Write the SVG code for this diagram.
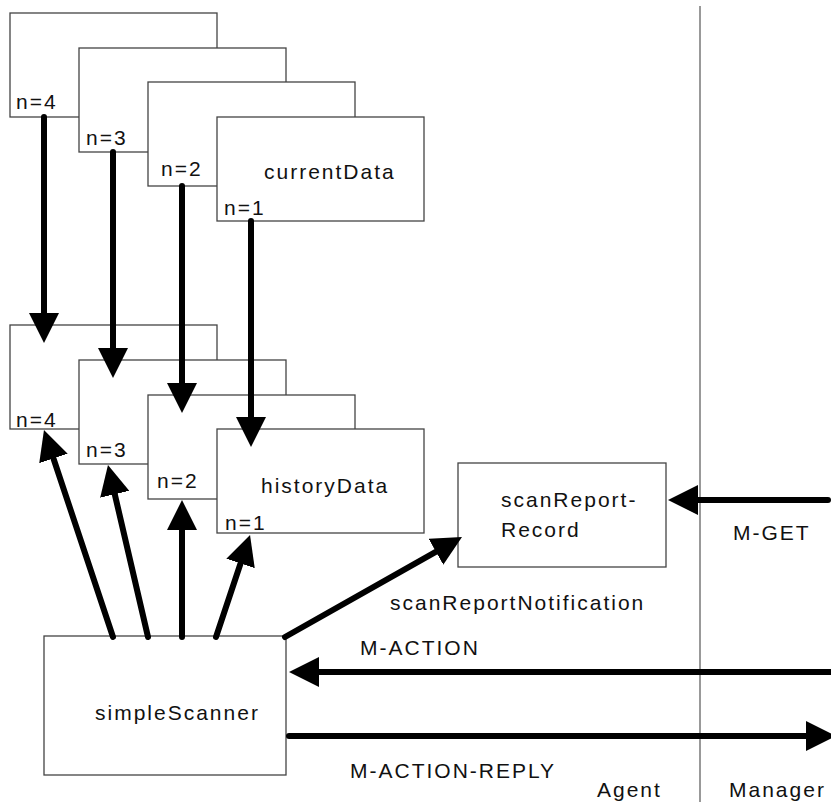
<svg xmlns="http://www.w3.org/2000/svg" width="831" height="805" viewBox="0 0 831 805">
<style>
.box{fill:#fff;stroke:#444;stroke-width:1.3}
.t{font-family:"Liberation Sans",Arial,sans-serif;font-size:21px;letter-spacing:2px;fill:#111}
.c{fill:none;stroke:#000;stroke-width:6;stroke-linecap:round;marker-end:url(#ah)}
.div{stroke:#777;stroke-width:1.5}
</style>
<defs>
<marker id="ah" markerUnits="userSpaceOnUse" markerWidth="30" markerHeight="30" viewBox="0 0 30 30" refX="10" refY="15" orient="auto">
<path d="M0,0 L30,15 L0,30 z" fill="#000"/>
</marker>
</defs>
<rect width="831" height="805" fill="#fff"/>
<line class="div" x1="700" y1="6" x2="700" y2="802"/>
<g id="current4"><rect class="box" x="10" y="13" width="207" height="104"/><text class="t" x="16" y="109">n=4</text></g>
<g id="current3"><rect class="box" x="79" y="48" width="207" height="104"/><text class="t" x="86" y="145">n=3</text></g>
<g id="current2"><rect class="box" x="148" y="82" width="207" height="104"/><text class="t" x="161" y="176">n=2</text></g>
<g id="current1"><rect class="box" x="217" y="117" width="207" height="104"/><text class="t" x="264" y="179">currentData</text><text class="t" x="224" y="215">n=1</text></g>
<g id="history4"><rect class="box" x="10" y="325" width="207" height="104"/><text class="t" x="16" y="427">n=4</text></g>
<g id="history3"><rect class="box" x="79" y="360" width="207" height="104"/><text class="t" x="86" y="457">n=3</text></g>
<g id="history2"><rect class="box" x="148" y="395" width="207" height="104"/><text class="t" x="157" y="488">n=2</text></g>
<g id="history1"><rect class="box" x="217" y="429" width="207" height="104"/><text class="t" x="261" y="493">historyData</text><text class="t" x="225" y="530">n=1</text></g>
<g id="scanReportRecord"><rect class="box" x="458" y="463" width="208" height="104"/><text class="t" x="501" y="507">scanReport-</text><text class="t" x="501" y="537">Record</text></g>
<g id="simpleScanner"><rect class="box" x="44" y="636" width="242" height="139"/><text class="t" x="95" y="720">simpleScanner</text></g>
<g id="connectors">
<line class="c" x1="44" y1="117" x2="44" y2="323"/>
<line class="c" x1="113" y1="152" x2="113" y2="358"/>
<line class="c" x1="182" y1="186" x2="182" y2="393"/>
<line class="c" x1="251" y1="221" x2="251" y2="427"/>
<line class="c" x1="113" y1="637" x2="50.3" y2="449"/>
<line class="c" x1="148" y1="637" x2="112.5" y2="484.5"/>
<line class="c" x1="182" y1="637" x2="182" y2="520"/>
<line class="c" x1="216" y1="637" x2="243.7" y2="554"/>
<line class="c" x1="285" y1="637" x2="444.6" y2="546.8"/>
<line class="c" x1="828" y1="500" x2="688" y2="500"/>
<line class="c" x1="845" y1="672" x2="309" y2="672"/>
<line class="c" x1="289" y1="736" x2="816" y2="736"/>
</g>
<g id="labels">
<text class="t" x="390" y="610">scanReportNotification</text>
<text class="t" x="733" y="540">M-GET</text>
<text class="t" x="360" y="655">M-ACTION</text>
<text class="t" x="350" y="778">M-ACTION-REPLY</text>
<text class="t" x="597" y="797">Agent</text>
<text class="t" x="729" y="797">Manager</text>
</g>
</svg>
